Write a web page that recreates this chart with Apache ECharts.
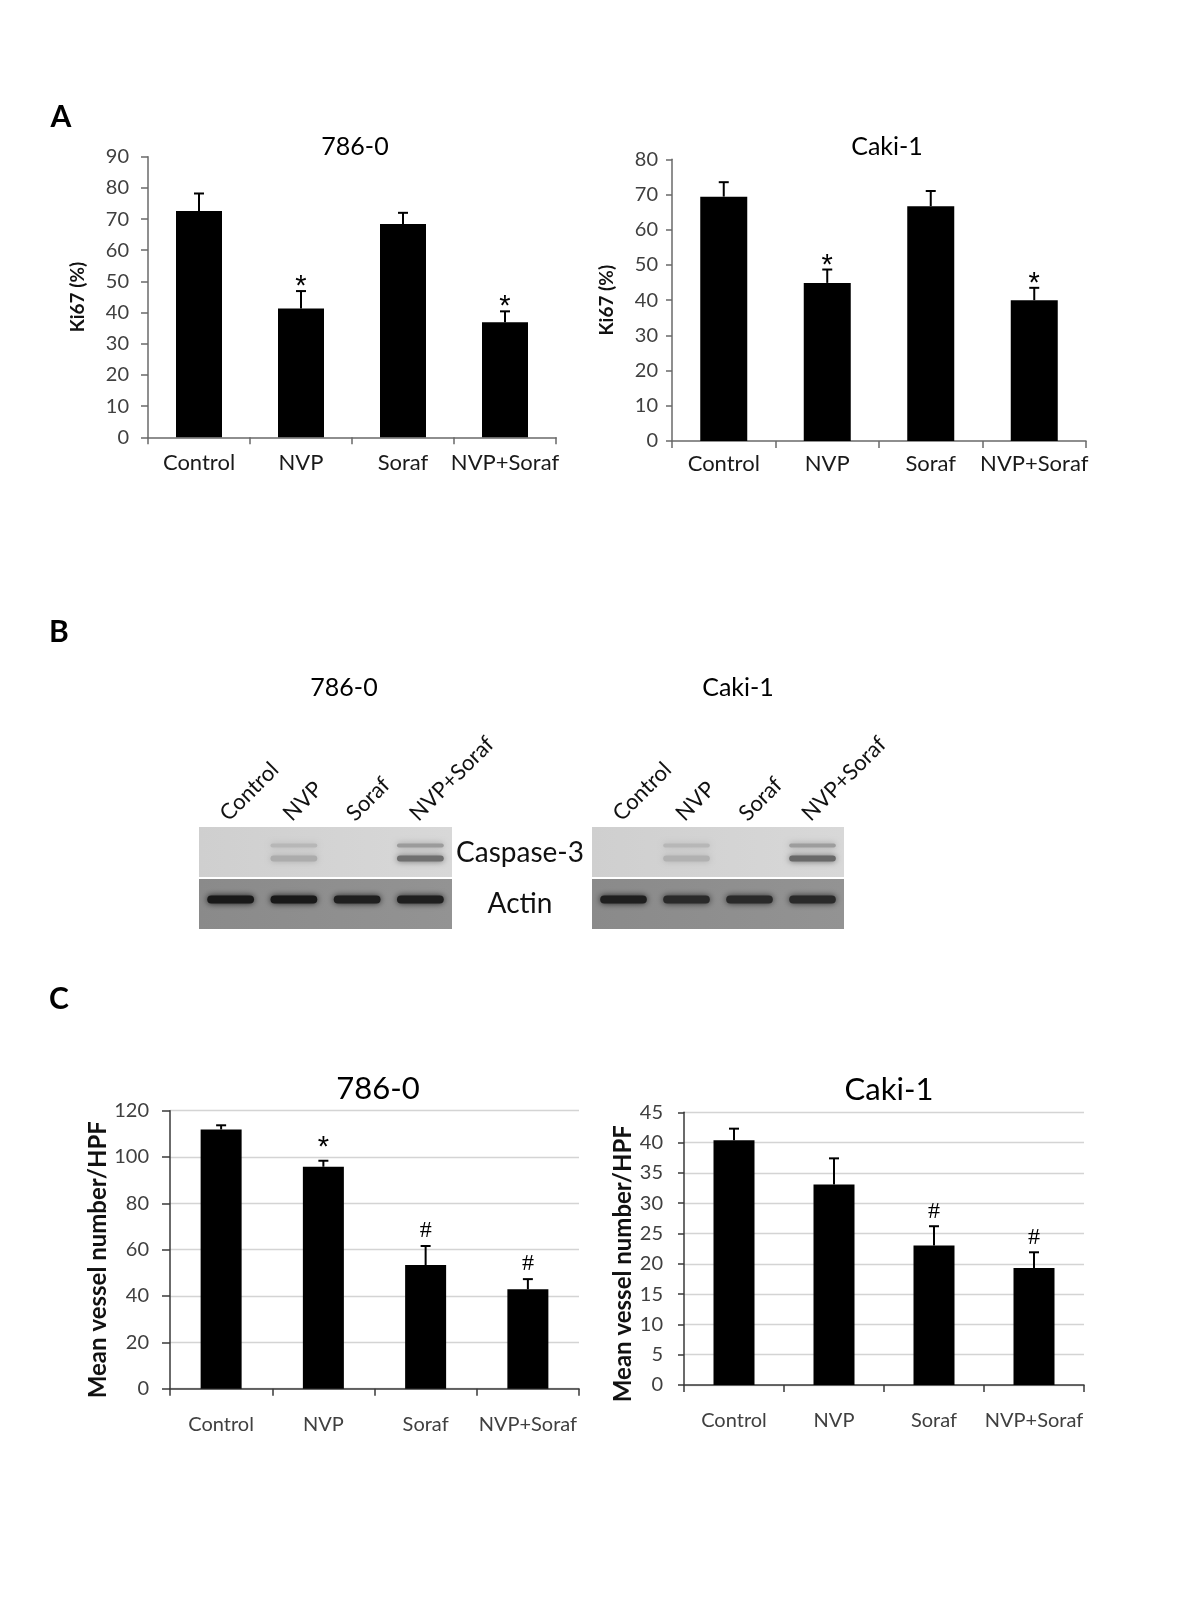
<!DOCTYPE html>
<html><head><meta charset="utf-8">
<script src="https://cdn.jsdelivr.net/npm/echarts@6/dist/echarts.min.js"></script>
<style>html,body{margin:0;padding:0;background:#fff}#c{width:1200px;height:1600px}</style>
</head><body><div id="c"></div>
<script>
// ---------- DATA ----------
const categories = ['Control', 'NVP', 'Soraf', 'NVP+Soraf'];

// Panel A: Ki67 (%)
const ki67_786 = [72.6, 41.3, 68.4, 36.9];
const ki67_786_errTop = [78.2, 46.9, 72.0, 40.4];
const ki67_786_sig = ['', '*', '', '*'];
const ki67_caki = [69.4, 44.9, 66.7, 40.0];
const ki67_caki_errTop = [73.5, 48.7, 71.0, 43.5];
const ki67_caki_sig = ['', '*', '', '*'];

// Panel C: Mean vessel number/HPF
const mvd_786 = [111.9, 95.8, 53.4, 42.9];
const mvd_786_errTop = [113.7, 98.4, 61.6, 47.3];
const mvd_786_sig = ['', '*', '#', '#'];
const mvd_caki = [40.4, 33.1, 23.0, 19.3];
const mvd_caki_errTop = [42.3, 37.4, 26.2, 21.9];
const mvd_caki_sig = ['', '', '#', '#'];

// axis ranges [min, max, interval]
const ki67_786_axis = [0, 90, 10];
const ki67_caki_axis = [0, 80, 10];
const mvd_786_axis = [0, 120, 20];
const mvd_caki_axis = [0, 45, 5];

// Panel B: western blot (relative band intensity 0..1)
const blotRows = ['Actin', 'Caspase-3'];
const b786_caspUpper = [0, 0.2, 0, 0.4];
const b786_caspLower = [0, 0.28, 0, 0.7];
const b786_actin = [1, 1, 0.95, 0.95];
const bCaki_caspUpper = [0, 0.2, 0, 0.38];
const bCaki_caspLower = [0, 0.24, 0, 0.75];
const bCaki_actin = [0.95, 0.85, 0.85, 0.85];

// ---------- CHART ----------
const FONT = 'Lato';
const chart = echarts.init(document.getElementById('c'), null, {renderer: 'canvas'});

const grids = [
  {left: 148, top: 156.7, width: 408, height: 280.6},   // A 786-0
  {left: 672, top: 159.3, width: 414, height: 281.7},   // A Caki-1
  {left: 170, top: 1110.7, width: 409, height: 278},    // C 786-0
  {left: 684, top: 1112.3, width: 400, height: 272.7},  // C Caki-1
  {left: 199, top: 827, width: 253, height: 102},       // B 786-0 blot
  {left: 592, top: 827, width: 252, height: 102}        // B Caki-1 blot
];

function xCat(gi, style) {
  return {
    type: 'category', gridIndex: gi, data: categories,
    axisLine: {show: true, lineStyle: {color: style.axis, width: 1.5}},
    axisTick: {show: true, length: 7, lineStyle: {color: style.axis, width: 1.5}},
    axisLabel: {interval: 0, margin: style.xMargin, fontSize: style.xFont, color: style.xColor, fontFamily: FONT}
  };
}
function yVal(gi, rng, style) {
  return {
    type: 'value', gridIndex: gi, min: rng[0], max: rng[1], interval: rng[2],
    name: style.name, nameLocation: 'middle', nameGap: style.nameGap,
    nameTextStyle: {fontSize: style.nameFont, fontWeight: 'bold', color: '#111', fontFamily: FONT,
      padding: style.namePad || 0},
    axisLine: {show: true, lineStyle: {color: style.axis, width: 1.5}},
    axisTick: {show: true, length: style.tickLen, lineStyle: {color: style.axis, width: 1.5}},
    splitLine: {show: style.grid, lineStyle: {color: '#d4d4d4', width: 1.3}},
    axisLabel: {margin: style.yMargin, fontSize: 20, color: '#404040', fontFamily: FONT}
  };
}
function bar(gi, data, w) {
  return {type: 'bar', xAxisIndex: gi, yAxisIndex: gi, data: data, barWidth: w,
    itemStyle: {color: '#000'}, silent: true, z: 2};
}
function err(gi, bases, tops, sigs, starGap, hashGap) {
  return {
    type: 'custom', xAxisIndex: gi, yAxisIndex: gi, z: 3, silent: true,
    data: tops.map((t, i) => [i, t, bases[i]]),
    encode: {x: 0, y: 1},
    renderItem(params, api) {
      const i = api.value(0);
      const top = api.coord([i, api.value(1)]);
      const base = api.coord([i, api.value(2)]);
      const sig = sigs[params.dataIndex];
      const ch = [
        {type: 'line', shape: {x1: top[0], y1: base[1], x2: top[0], y2: top[1]}, style: {stroke: '#000', lineWidth: 2}},
        {type: 'line', shape: {x1: top[0] - 5, y1: top[1], x2: top[0] + 5, y2: top[1]}, style: {stroke: '#000', lineWidth: 2}}
      ];
      if (sig) {
        const isStar = sig === '*';
        ch.push({type: 'text', x: top[0], y: top[1] - (isStar ? starGap : hashGap),
          style: {text: sig, fill: '#000', align: 'center', verticalAlign: 'middle',
            fontSize: isStar ? 29 : 24, fontFamily: isStar ? 'Liberation Sans' : 'Liberation Serif'}});
      }
      return {type: 'group', children: ch};
    }
  };
}

const styleA = {axis: '#6a6a6a', xMargin: 15, xFont: 22, xColor: '#1a1a1a', yMargin: 19, tickLen: 7,
  name: 'Ki67 (%)', nameFont: 19, grid: false, nameGap: 147.7 - 77 - 10};
const styleA2 = Object.assign({}, styleA, {yMargin: 14, xMargin: 12, tickLen: 6, nameGap: 671.7 - 606 - 10});
const styleC = {axis: '#3a3a3a', xMargin: 26, xFont: 20, xColor: '#404040', yMargin: 21, tickLen: 8,
  name: 'Mean vessel number/HPF', nameFont: 24, grid: true};
const styleC1 = Object.assign({}, styleC, {nameGap: 170 - 108 - 12, namePad: [0, 20, 0, 0]});
const styleC2 = Object.assign({}, styleC, {nameGap: 684.3 - 624 - 12, tickLen: 6, namePad: [0, 30, 0, 0]});

// blot helpers
function blotX(gi) {
  return {type: 'category', gridIndex: gi, data: categories, position: 'top',
    axisLine: {show: false}, axisTick: {show: false}, axisLabel: {show: false}};
}
function blotY(gi, showLabels) {
  return {type: 'category', gridIndex: gi, data: blotRows, position: 'right',
    axisLine: {show: false}, axisTick: {show: false}, splitLine: {show: false},
    axisLabel: {show: showLabels, margin: 68, align: 'center', fontSize: 28, color: '#111', fontFamily: FONT}};
}
function blotBg(gi) {
  return {type: 'custom', xAxisIndex: gi, yAxisIndex: gi, silent: true, z: 1,
    data: [[0, 0], [0, 1]], encode: {x: 0, y: 1},
    renderItem(params, api) {
      const row = api.value(1);
      const c = api.coord([0, row]);
      const h = api.size([0, 1])[1];
      const cs = params.coordSys;
      const y0 = c[1] - h / 2;
      return row === 1
        ? {type: 'rect', shape: {x: cs.x, y: y0, width: cs.width, height: h - 1},
           style: {fill: new echarts.graphic.LinearGradient(0, 0, 1, 0, [{offset: 0, color: '#cfcfcf'}, {offset: 1, color: '#d8d8d8'}])}}
        : {type: 'rect', shape: {x: cs.x, y: y0 + 1, width: cs.width, height: h - 1},
           style: {fill: new echarts.graphic.LinearGradient(0, 0, 1, 0, [{offset: 0, color: '#8a8a8a'}, {offset: 1, color: '#939393'}])}};
    }};
}
function mix(a, b, t) { const v = Math.round(a + (b - a) * t); return 'rgb(' + v + ',' + v + ',' + v + ')'; }
function blotBands(gi, upper, lower, actin) {
  const data = [];
  actin.forEach((v, i) => { if (v > 0) data.push([i, 0, 0, v]); });
  upper.forEach((v, i) => { if (v > 0) data.push([i, 1, 1, v]); });
  lower.forEach((v, i) => { if (v > 0) data.push([i, 1, 2, v]); });
  return {type: 'custom', xAxisIndex: gi, yAxisIndex: gi, silent: true, z: 2,
    data: data, encode: {x: 0, y: 1},
    renderItem(params, api) {
      const lane = api.value(0), row = api.value(1), kind = api.value(2), v = api.value(3);
      const c = api.coord([lane, row]);
      const lw = api.size([1, 0])[0];
      const off = kind === 0 ? -4 : (kind === 1 ? -7 : 6);
      const bh = kind === 0 ? 8 : (kind === 1 ? 4 : 6);
      const w = lw * 0.74;
      const col = kind === 0 ? mix(141, 25, v) : mix(211, 70, v);
      return {type: 'rect', shape: {x: c[0] - w / 2, y: c[1] + off - bh / 2, width: w, height: bh, r: bh / 2},
        style: {fill: col, shadowBlur: 6, shadowColor: col}};
    }};
}

function txt(x, y, s, size, bold) {
  return {type: 'text', x: x, y: y, silent: true,
    style: {text: s, fontSize: size, fontWeight: bold ? 'bold' : 'normal', fontFamily: FONT, fill: '#000',
      align: 'center', verticalAlign: 'middle'}};
}

const baseGraphic = [
  txt(61, 117, 'A', 30, true),
  txt(59, 632, 'B', 30, true),
  txt(59, 999, 'C', 30, true),
  txt(355, 147, '786-0', 25, false),
  txt(887, 147, 'Caki-1', 25, false),
  txt(344, 688, '786-0', 25, false),
  txt(738, 688, 'Caki-1', 25, false),
  txt(378, 1089, '786-0', 31, false),
  txt(889, 1090, 'Caki-1', 31, false)
];

const option = {
  animation: false,
  backgroundColor: '#fff',
  grid: grids.map(g => Object.assign({containLabel: false}, g)),
  xAxis: [xCat(0, styleA), xCat(1, styleA2), xCat(2, styleC1), xCat(3, styleC2), blotX(4), blotX(5)],
  yAxis: [yVal(0, ki67_786_axis, styleA), yVal(1, ki67_caki_axis, styleA2),
          yVal(2, mvd_786_axis, styleC1), yVal(3, mvd_caki_axis, styleC2),
          blotY(4, true), blotY(5, false)],
  series: [
    bar(0, ki67_786, 46), err(0, ki67_786, ki67_786_errTop, ki67_786_sig, 4, 14),
    bar(1, ki67_caki, 47), err(1, ki67_caki, ki67_caki_errTop, ki67_caki_sig, 4, 14),
    bar(2, mvd_786, 41), err(2, mvd_786, mvd_786_errTop, mvd_786_sig, 13, 15),
    bar(3, mvd_caki, 41), err(3, mvd_caki, mvd_caki_errTop, mvd_caki_sig, 13, 15),
    blotBg(4), blotBands(4, b786_caspUpper, b786_caspLower, b786_actin),
    blotBg(5), blotBands(5, bCaki_caspUpper, bCaki_caspLower, bCaki_actin)
  ],
  graphic: baseGraphic
};
chart.setOption(option);

// rotated lane labels above each blot, placed at the lane positions of the blot axes
const laneLabels = [];
[4, 5].forEach(gi => {
  categories.forEach((name, i) => {
    const p = chart.convertToPixel({gridIndex: gi}, [i, 'Caspase-3']);
    const topY = grids[gi].top;
    laneLabels.push({type: 'text', x: p[0] + 1, y: topY - 2, rotation: Math.PI / 4, silent: true,
      style: {text: name, fontSize: 22, fontFamily: FONT, fill: '#111', align: 'left', verticalAlign: 'bottom'}});
  });
});
chart.setOption({graphic: baseGraphic.concat(laneLabels)});
</script>
</body></html>
